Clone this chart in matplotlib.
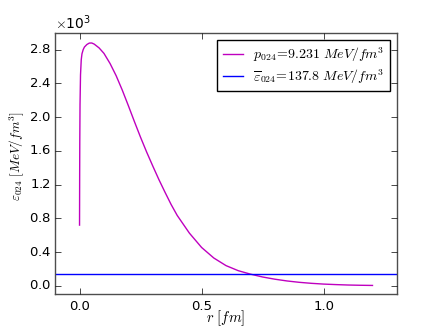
import numpy as np
import matplotlib
matplotlib.use('Agg')
import matplotlib.pyplot as plt

# radius in fm and energy density in MeV/fm^3
r_fm = [0.0, 0.0005, 0.001, 0.002, 0.004, 0.007, 0.01, 0.015, 0.02, 0.03,
        0.04, 0.05, 0.06, 0.08, 0.10, 0.125, 0.15, 0.175, 0.20, 0.225,
        0.25, 0.275, 0.30, 0.325, 0.35, 0.375, 0.40, 0.45, 0.50, 0.55,
        0.60, 0.65, 0.70, 0.75, 0.80, 0.85, 0.90, 0.95, 1.00, 1.05,
        1.10, 1.15, 1.20]
eps_r = [720, 1300, 1700, 2150, 2500, 2680, 2750, 2800, 2830, 2860,
         2877, 2878, 2865, 2820, 2755, 2635, 2490, 2320, 2135, 1945,
         1760, 1585, 1420, 1260, 1110, 965, 835, 625, 455, 330,
         240, 180, 139, 105, 79, 58, 42, 30, 21, 15,
         10, 7, 5]
eps_mean = 137.8
p_label = r'$p_{024}\!=\!9.231\ MeV/fm^3$'
e_label = r'$\overline{\varepsilon}_{024}\!=\!137.8\ MeV/fm^3$'

plt.style.use('classic')
plt.rcParams['mathtext.fontset'] = 'cm'
plt.rcParams['font.size'] = 10

fig = plt.figure(figsize=(4.41, 3.27), dpi=100, facecolor='white')
ax = fig.add_subplot(111)
ax.plot(r_fm, eps_r, color='m', lw=1, label=p_label)
ax.axhline(eps_mean, color='b', lw=1, label=e_label)

ax.set_xlim(-0.1, 1.3)
ax.set_ylim(-100, 3000)
ax.set_xticks([0.0, 0.5, 1.0])
ax.set_yticks(np.arange(0, 2801, 400))
ax.ticklabel_format(axis='y', style='sci', scilimits=(3, 3), useMathText=True)
ax.tick_params(labelsize=9.5)
ax.tick_params(axis='y', pad=3)
ax.yaxis.get_offset_text().set_fontsize(10)
for s in ax.spines.values():
    s.set_color('0.3')

ax.set_xlabel(r'$r\ [fm]$', fontsize=10.5)
ax.xaxis.set_label_coords(0.5, -0.055)
ax.set_ylabel(r'$\varepsilon_{024}\ [MeV/fm^3]$', fontsize=9.5)
ax.yaxis.set_label_coords(-0.085, 0.53)
ax.legend(loc='upper right', fontsize=10, numpoints=1, handlelength=1.5,
          labelspacing=0.25, borderpad=0.4, handletextpad=0.7)

fig.savefig('out.png', dpi=100, facecolor='white')
